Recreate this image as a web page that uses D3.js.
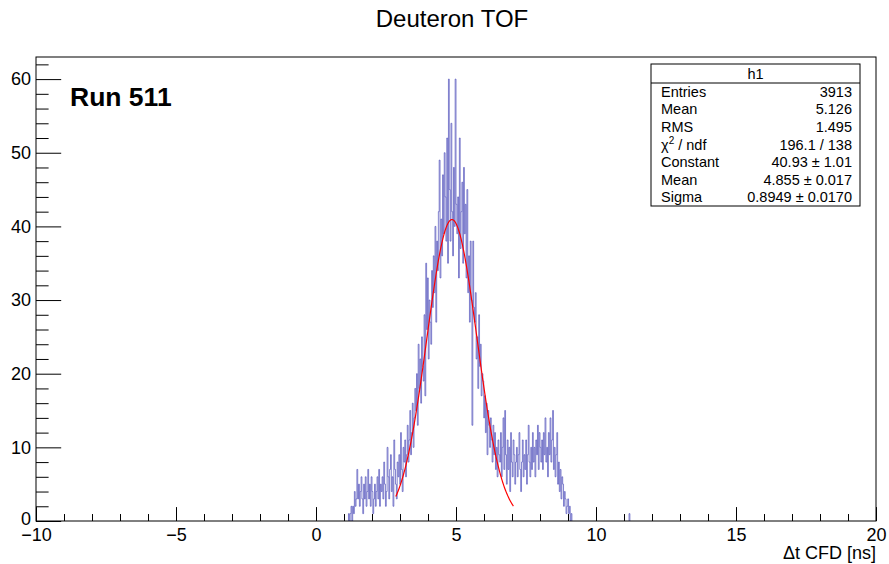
<!DOCTYPE html>
<html>
<head>
<meta charset="utf-8">
<script src="https://cdn.jsdelivr.net/npm/d3@7"></script>
<style>
  html, body { margin: 0; padding: 0; background: #fff; }
  svg { display: block; font-family: "Liberation Sans", Arial, Helvetica, sans-serif; }
</style>
</head>
<body>
<svg id="chart" width="889" height="564"></svg>
<script>
// ---------------- data ----------------
const titleText = "Deuteron TOF";
const xTitle = "\u0394t CFD [ns]";
const runLabel = "Run 511";
const xDomain = [-10, 20];
const yDomain = [0, 63];
const binWidth = 0.03;          // 1000 bins over [-10, 20]
const firstBinLow = 1.16;       // low edge of the first filled bin
const counts = [
  1,0,1,2,0,2,1,4,2,3,
  7,3,5,2,4,6,3,1,5,3,
  6,2,4,7,3,5,2,6,4,1,
  3,5,2,4,6,3,7,2,5,4,
  6,3,8,5,2,4,10,6,3,7,
  9,4,6,2,11,7,5,3,8,6,
  9,5,12,7,4,10,8,11,6,9,
  13,8,11,15,9,12,16,10,14,18,
  15,20,13,24,18,22,16,25,21,19,
  28,17,35,26,33,22,30,27,24,34,
  29,36,31,40,27,38,34,42,49,33,
  41,36,47,39,50,44,38,52,35,60,
  45,38,54,42,36,48,40,60,43,39,
  44,33,52,37,42,46,35,48,39,43,
  33,45,31,36,27,38,30,13,38,29,
  27,31,22,25,18,28,21,24,17,20,
  19,14,17,12,16,9,15,13,10,14,
  11,8,13,9,12,7,10,6,11,9,
  8,12,6,10,14,7,15,9,5,11,
  7,10,4,12,8,6,11,9,5,8,
  10,6,9,12,7,4,8,11,6,9,
  7,11,5,9,13,8,6,10,7,12,
  8,10,6,11,9,13,7,12,10,8,
  11,7,12,9,14,8,10,6,12,9,
  14,8,11,15,7,10,6,9,12,5,
  8,4,7,3,6,5,2,4,3,1,
  2,3,1,2,0,1
];
const strayBinLow = [11.18];
const strayCounts = [1];

// Gaussian fit: [Constant, Mean, Sigma] and fit range
const fitParams = [40.93, 4.855, 0.8949];
const fitRange = [2.85, 7.05];

// stats box
const statsName = "h1";
const statsLabels = ["Entries", "Mean", "RMS", "CHI", "Constant", "Mean", "Sigma"];
const statsValues = ["3913", "5.126", "1.495", "196.1 / 138", "40.93 \u00b1 1.01", "4.855 \u00b1 0.017", "0.8949 \u00b1 0.0170"];

const yMajorTicks = [0, 10, 20, 30, 40, 50, 60];
const xMajorTicks = [-10, -5, 0, 5, 10, 15, 20];

// ---------------- layout ----------------
const W = 889, H = 564;
const frame = { left: 36, right: 876, top: 57, bottom: 521 };
const svg = d3.select("#chart");

const x = d3.scaleLinear().domain(xDomain).range([frame.left, frame.right]);
const y = d3.scaleLinear().domain(yDomain).range([frame.bottom, frame.top]);

svg.append("rect").attr("width", W).attr("height", H).attr("fill", "#fff");

// title
svg.append("text")
  .attr("x", 452).attr("y", 27)
  .attr("text-anchor", "middle")
  .attr("font-size", 24)
  .attr("fill", "#000")
  .text(titleText);

// ---------------- histogram ----------------
svg.append("clipPath").attr("id", "plotclip")
  .append("rect")
  .attr("x", frame.left).attr("y", frame.top)
  .attr("width", frame.right - frame.left).attr("height", frame.bottom - frame.top);

function stepPath(lowEdge, vals) {
  const p = d3.path();
  p.moveTo(x(lowEdge), y(0));
  vals.forEach((v, i) => {
    const x0 = lowEdge + i * binWidth;
    const x1 = x0 + binWidth;
    p.lineTo(x(x0), y(v));
    p.lineTo(x(x1), y(v));
  });
  p.lineTo(x(lowEdge + vals.length * binWidth), y(0));
  return p.toString();
}

const histColor = "#4a4ab8";
const g = svg.append("g").attr("clip-path", "url(#plotclip)");
g.append("path")
  .attr("d", stepPath(firstBinLow, counts))
  .attr("fill", "none")
  .attr("stroke", histColor)
  .attr("stroke-opacity", 0.68)
  .attr("stroke-width", 1);
strayBinLow.forEach((lo, i) => {
  g.append("path")
    .attr("d", stepPath(lo, [strayCounts[i]]))
    .attr("fill", "none")
    .attr("stroke", histColor)
    .attr("stroke-opacity", 0.68)
    .attr("stroke-width", 1);
});

// fit curve (drawn from the fit parameters)
const [A, mu, sig] = fitParams;
const fitXs = d3.range(fitRange[0], fitRange[1] + 1e-9, 0.02);
const fitLine = d3.line()
  .x(d => x(d))
  .y(d => y(A * Math.exp(-0.5 * ((d - mu) / sig) ** 2)));
g.append("path")
  .attr("d", fitLine(fitXs))
  .attr("fill", "none")
  .attr("stroke", "#ff0000")
  .attr("stroke-width", 1.2);

// ---------------- frame & axes ----------------
svg.append("rect")
  .attr("x", frame.left).attr("y", frame.top)
  .attr("width", frame.right - frame.left).attr("height", frame.bottom - frame.top)
  .attr("fill", "none").attr("stroke", "#000").attr("stroke-width", 1);

const fw = frame.right - frame.left, fh = frame.bottom - frame.top;
const yMajLen = 0.03 * fw, yMinLen = yMajLen / 2;
const xMajLen = 0.03 * fh, xMinLen = xMajLen / 2;

// y axis
const yMinorTicks = d3.range(0, 63.01, 2).filter(v => !yMajorTicks.includes(v));
svg.append("g").attr("transform", `translate(${frame.left},0)`)
  .call(d3.axisLeft(y).tickValues(yMinorTicks).tickSize(-yMinLen).tickFormat(""))
  .call(a => a.select(".domain").remove());
const yAx = svg.append("g").attr("transform", `translate(${frame.left},0)`)
  .call(d3.axisLeft(y).tickValues(yMajorTicks).tickSize(-yMajLen).tickPadding(5).tickFormat(d3.format("d")));
yAx.select(".domain").remove();
yAx.selectAll("text").attr("font-size", 18).attr("fill", "#000")
  .attr("font-family", "Liberation Sans, Arial, sans-serif");
// nudge the "0" label up a touch so it does not collide with "−10"
yAx.selectAll(".tick text").filter(d => d === 0).attr("dy", "0.2em");

// x axis
const xMinorTicks = d3.range(-10, 20.01, 1).filter(v => !xMajorTicks.includes(v));
svg.append("g").attr("transform", `translate(0,${frame.bottom})`)
  .call(d3.axisBottom(x).tickValues(xMinorTicks).tickSize(-xMinLen).tickFormat(""))
  .call(a => a.select(".domain").remove());
const xAx = svg.append("g").attr("transform", `translate(0,${frame.bottom})`)
  .call(d3.axisBottom(x).tickValues(xMajorTicks).tickSize(-xMajLen).tickPadding(7));
xAx.select(".domain").remove();
xAx.selectAll("text").attr("font-size", 18).attr("fill", "#000")
  .attr("font-family", "Liberation Sans, Arial, sans-serif");

svg.append("text")
  .attr("x", frame.right).attr("y", 559)
  .attr("text-anchor", "end")
  .attr("font-size", 18)
  .text(xTitle);

// Run label
svg.append("text")
  .attr("x", 70).attr("y", 106)
  .attr("font-size", 26.5).attr("font-weight", "bold")
  .text(runLabel);

// ---------------- stats box ----------------
const sb = { left: 651, right: 860, top: 64, bottom: 206, header: 83 };
svg.append("rect")
  .attr("x", sb.left).attr("y", sb.top)
  .attr("width", sb.right - sb.left).attr("height", sb.bottom - sb.top)
  .attr("fill", "#fff").attr("stroke", "#000").attr("stroke-width", 1);
svg.append("line")
  .attr("x1", sb.left).attr("x2", sb.right).attr("y1", sb.header).attr("y2", sb.header)
  .attr("stroke", "#000").attr("stroke-width", 1);
svg.append("text")
  .attr("x", (sb.left + sb.right) / 2).attr("y", 79)
  .attr("text-anchor", "middle").attr("font-size", 14.5)
  .text(statsName);
const rowH = (sb.bottom - sb.header) / statsLabels.length;
statsLabels.forEach((lab, i) => {
  const yy = sb.header + rowH * (i + 0.5) + 5;
  const t = svg.append("text").attr("x", 661).attr("y", yy).attr("font-size", 14.5);
  if (lab === "CHI") {
    t.append("tspan").text("\u03c7");
    t.append("tspan").attr("font-size", 10).attr("dy", -6).text("2");
    t.append("tspan").attr("dy", 6).text(" / ndf");
  } else {
    t.text(lab);
  }
  svg.append("text").attr("x", 852).attr("y", yy)
    .attr("text-anchor", "end").attr("font-size", 14.5)
    .text(statsValues[i]);
});
</script>
</body>
</html>
